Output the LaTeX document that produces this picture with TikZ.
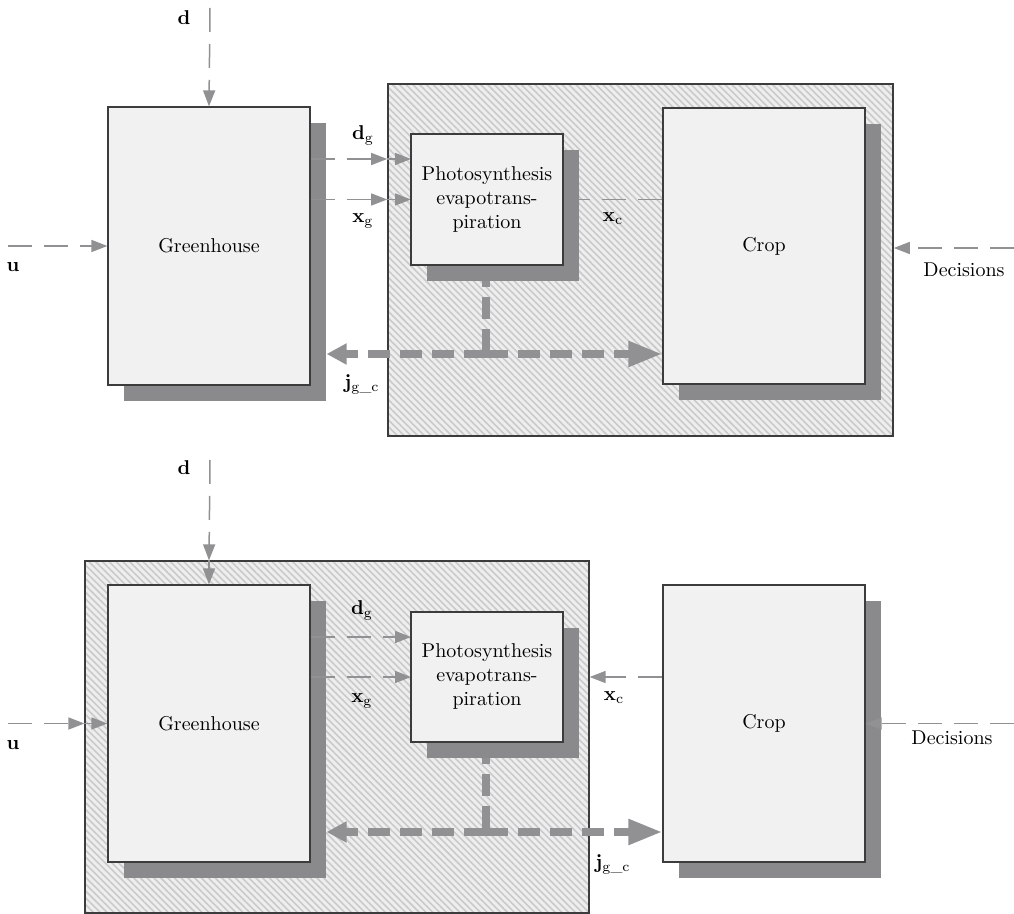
\documentclass[tikz,border=0pt]{standalone}
\usepackage{amsmath}
\usepackage{amssymb}
\usepackage{tikz}
\usetikzlibrary{arrows.meta,patterns.meta,shadows}
\definecolor{shadowgray}{RGB}{138,138,140}
\definecolor{arrowgray}{RGB}{145,145,147}
\definecolor{boxline}{RGB}{60,60,60}
\definecolor{boxfill}{RGB}{241,241,241}
\definecolor{hatchbg}{RGB}{238,238,238}
\definecolor{hatchline}{RGB}{202,202,202}
\tikzset{
  block/.style={draw=boxline, fill=boxfill, line width=0.6pt, inner sep=0pt,
    drop shadow={shadow xshift=8pt, shadow yshift=-8pt, fill=shadowgray, opacity=1}},
  region/.style={draw=boxline, line width=0.6pt, inner sep=0pt, preaction={fill=hatchbg},
    pattern={Lines[angle=-45, distance=2.4pt, line width=0.8pt]}, pattern color=hatchline},
  flow/.style={draw=arrowgray, line width=0.75pt, dash pattern=on 12pt off 6pt,
    -{Triangle[length=8pt, width=6pt]}, arrowgray},
  jflow/.style={draw=arrowgray, line width=4pt, dash pattern=on 11pt off 5pt}
}

\begin{document}
\begin{tikzpicture}[x=0.5pt, y=-0.5pt]
    \useasboundingbox (0,0) rectangle (1014,914);
    % upper picture
    \node[region, minimum width=252.5pt, minimum height=176pt] (H1) at (640.5,260) {};
    \coordinate (P1pos) at (487,199.5);
    \coordinate (D1) at (210,8);
    \coordinate (U1) at (8,246);
    \coordinate (DEC1) at (1014,248);
    \coordinate (DG1) at (411,159);
    \coordinate (J1) at (486,354);
    \node[block, minimum width=101pt, minimum height=139pt] (G1) at (209,246) {Greenhouse};
    \node[block, minimum width=101pt, minimum height=138pt] (C1) at (764,246) {Crop};
    \draw[flow] (D1)--(G1.north);
    \draw[flow] (U1)--(G1.west);
    \draw[flow] (G1.east |- DG1)--(H1.west |- DG1);
    \draw[flow] (H1.west |- DG1)--(DG1);
    \draw[flow] (G1.east |- P1pos)--(H1.west |- P1pos);
    \draw[flow] (H1.west |- P1pos)--(411,199.5);
    \draw[flow] (C1.west |- P1pos)--(563,199.5);
    \draw[flow] (DEC1)--(H1.east |- DEC1);
    \draw[jflow] (486,265)--(J1);
    \draw[jflow, -{Triangle[length=10pt, width=10pt]}] (J1)--([xshift=8pt]G1.east |- J1);
    \draw[jflow, -{Triangle[length=17pt, width=12pt]}] (J1)--(C1.west |- J1);
    \node[block, minimum width=76pt, minimum height=65.5pt, align=center] (P1) at (P1pos) {Photosynthesis\\evapotrans-\\piration};
    \node (d1) at (184,18){$\mathbf{d}$};
    \node (u1) at (13,267){$\mathbf{u}$};
    \node (dec1) at (964,270){Decisions};
    \node (dg1) at (363,135){$\mathbf{d}_{\mathrm{g}}$};
    \node (xg1) at (363,221){$\mathbf{x}_{\mathrm{g}}$};
    \node (xc1) at (613,219){$\mathbf{x}_{\mathrm{c}}$};
    \node (j1) at (362,384){$\mathbf{j}_{\mathrm{g\_c}}$};
    % lower picture
    \node[region, minimum width=252pt, minimum height=176pt] (H2) at (337,737) {};
    \coordinate (P2pos) at (487,677);
    \coordinate (D2) at (210,460);
    \coordinate (U2) at (8,723.5);
    \coordinate (DEC2) at (1014,723.5);
    \coordinate (DG2) at (411,637);
    \coordinate (J2) at (486,832);
    \node[block, minimum width=101pt, minimum height=138.5pt] (G2) at (209,723.5) {Greenhouse};
    \node[block, minimum width=101pt, minimum height=138.5pt] (C2) at (764,723.5) {Crop};
    \draw[flow] (D2)--(G2.north |- H2.north);
    \draw[flow] (G2.north |- H2.north)--(G2.north);
    \draw[flow] (U2)--(H2.west |- U2);
    \draw[flow] (H2.west |- U2)--(G2.west);
    \draw[flow] (G2.east |- DG2)--(DG2);
    \draw[flow] (G2.east |- P2pos)--(411,677);
    \draw[flow] (C2.west |- P2pos)--(H2.east |- P2pos);
    \draw[flow] (DEC2)--(C2.east);
    \draw[jflow] (486,742)--(J2);
    \draw[jflow, -{Triangle[length=10pt, width=10pt]}] (J2)--([xshift=8pt]G2.east |- J2);
    \draw[jflow, -{Triangle[length=17pt, width=12pt]}] (J2)--(C2.west |- J2);
    \node[block, minimum width=76pt, minimum height=65pt, align=center] (P2) at (P2pos) {Photosynthesis\\evapotrans-\\piration};
    \node (d2) at (184,468){$\mathbf{d}$};
    \node (u2) at (13,745){$\mathbf{u}$};
    \node (dec2) at (952,738){Decisions};
    \node (dg2) at (362,610){$\mathbf{d}_{\mathrm{g}}$};
    \node (xg2) at (362,701){$\mathbf{x}_{\mathrm{g}}$};
    \node (xc2) at (614,698){$\mathbf{x}_{\mathrm{c}}$};
    \node (j2) at (613,864){$\mathbf{j}_{\mathrm{g\_c}}$};
\end{tikzpicture}
\end{document}
